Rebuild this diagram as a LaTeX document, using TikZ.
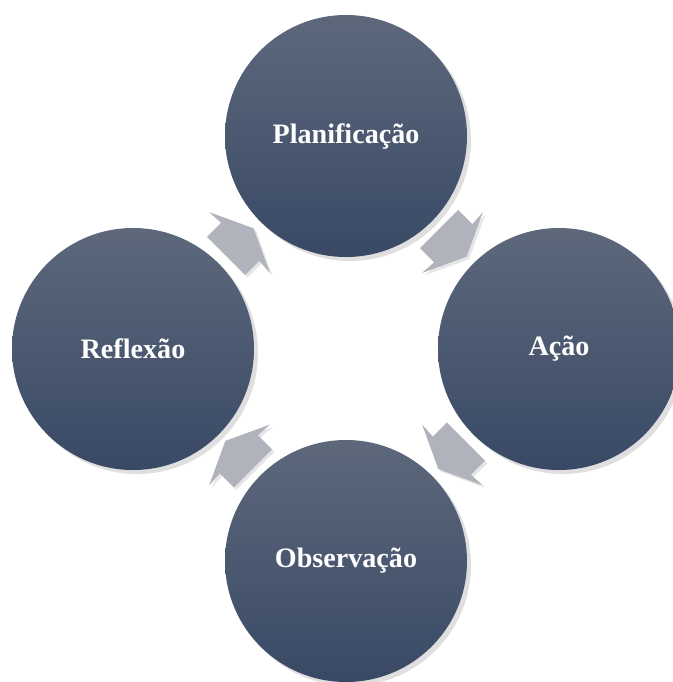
\documentclass[tikz,border=0pt]{standalone}
\usepackage{fontspec}
\setmainfont{Liberation Serif}
\usetikzlibrary{positioning,calc,shadows}
\definecolor{circtop}{RGB}{93,104,123}
\definecolor{circbot}{RGB}{57,73,101}
\definecolor{arrfill}{RGB}{176,179,187}

\begin{document}
\begin{tikzpicture}[
    phase/.style={circle, minimum size=4.84cm, inner sep=0pt, draw=none,
                  top color=circtop, bottom color=circbot,
                  drop shadow={shadow xshift=0.8mm, shadow yshift=-0.8mm,
                               opacity=0.25},
                  text=white, font=\fontsize{16}{19}\selectfont\bfseries},
    cyclearr/.pic={
        \fill[arrfill,
              drop shadow={shadow xshift=0.5mm, shadow yshift=-0.5mm,
                           opacity=0.2}]
            (-0.38,-0.54) -- (0.02,-0.54) -- (0,-0.86) -- (0.40,0)
            -- (0,0.86) -- (0.02,0.54) -- (-0.38,0.54) -- cycle;
    }
]
\useasboundingbox (0,0) rectangle (13.46,-13.64);

% the four phases of the cycle
\node[phase] (plan) at (6.92,-2.72) {Planificação};
\node[phase] (acao) at (11.18,-6.98) {Ação};
\node[phase] (obs) at (6.92,-11.22) {Observação};
\node[phase] (refl) at (2.66,-6.98) {Reflexão};

% arrows between them
\pic[rotate=-45] at ($(plan)!0.5!(acao)$) {cyclearr};
\pic[rotate=-135] at ($(acao)!0.5!(obs)$) {cyclearr};
\pic[rotate=135] at ($(obs)!0.5!(refl)$) {cyclearr};
\pic[rotate=45] at ($(refl)!0.5!(plan)$) {cyclearr};
\end{tikzpicture}
\end{document}
